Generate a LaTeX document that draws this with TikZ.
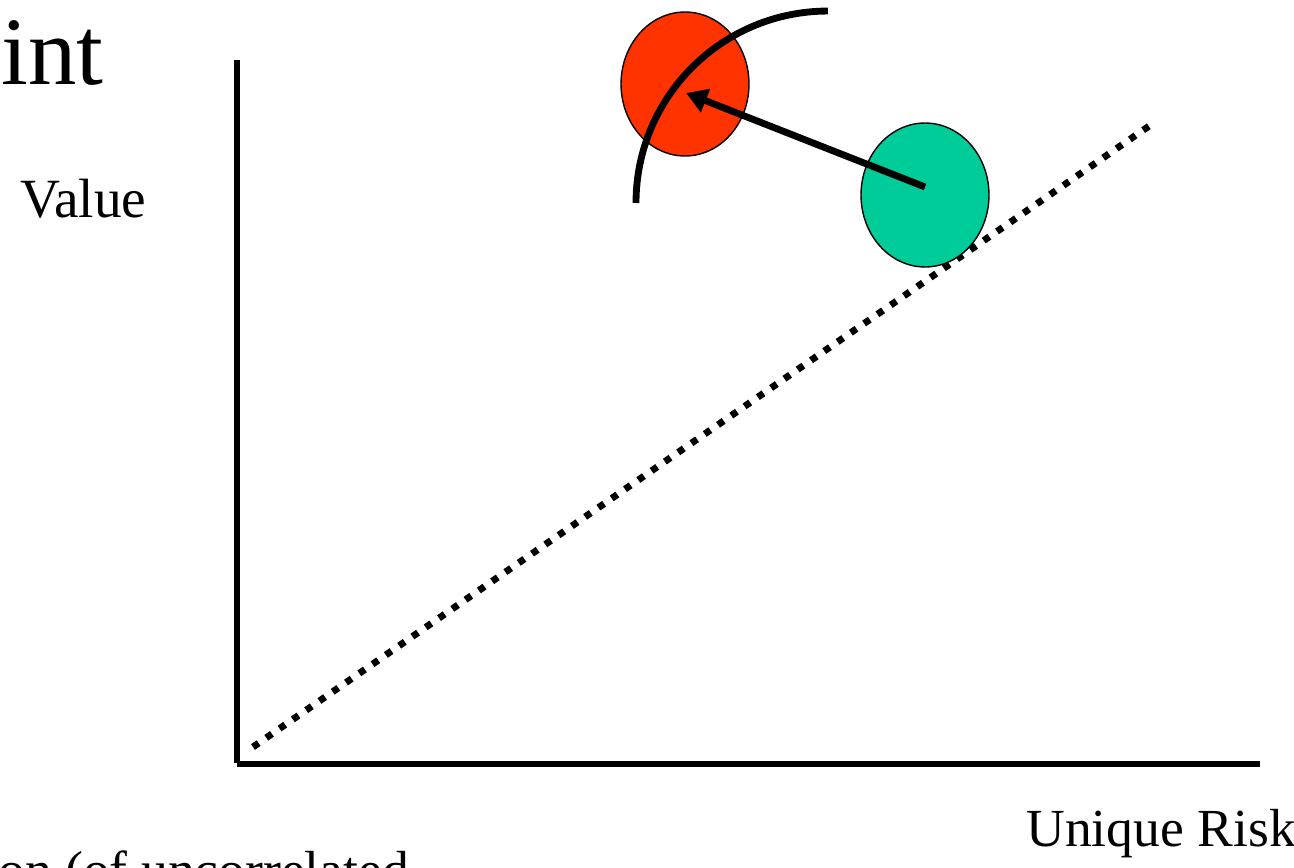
\documentclass[tikz,border=0pt]{standalone}
\usepackage{fontspec}
\setmainfont{Liberation Serif}
\usetikzlibrary{shapes.geometric,arrows.meta}

\definecolor{moved}{HTML}{FF3300}
\definecolor{origin}{HTML}{00CC99}

\begin{document}
\begin{tikzpicture}[x=0.02cm, y=-0.02cm,
    axis/.style={line width=3.9pt},
    blob/.style={ellipse, draw, line width=0.8pt, inner sep=0pt,
                 minimum width=2.56cm, minimum height=2.88cm},
    label/.style={anchor=base west, inner sep=0pt,
                  font=\fontsize{30.5}{36}\selectfont}]

\useasboundingbox (0,0) rectangle (1294,868);
\clip (0,0) rectangle (1294,868);

% ---- Titles and axis labels ----
\node[anchor=base west, inner sep=0pt, font=\fontsize{55}{60}\selectfont]
    (title) at (1,85) {int};
\node[label, font=\fontsize{31.5}{36}\selectfont] (yname) at (20,217) {Value};
\node[label] (xname) at (1026,846) {Unique Risk};
\node[label] (note) at (-2,888) {on (of uncorrelated};

% ---- Axes ----
\draw[axis] (237,60) -- (237,763);
\draw[axis] (237,764) -- (1260,764);

% Market line (dotted)
\draw[line width=3.9pt, dash pattern=on 3.9pt off 5.3pt] (253,747) -- (1152,124);

% ---- Positions before and after ----
\node[blob, fill=moved] (red) at (685,84) {};
\node[blob, fill=origin] (green) at (925,195) {};

% Frontier arc
\draw[axis] (636,203) arc[start angle=180, end angle=90, radius=3.84cm];

% Shift
\coordinate (tail) at (925,187);
\coordinate (tip) at (686,93);
\draw[axis, -{Triangle[length=0.42cm, width=0.48cm]}] (tail) -- (tip);

\end{tikzpicture}
\end{document}
